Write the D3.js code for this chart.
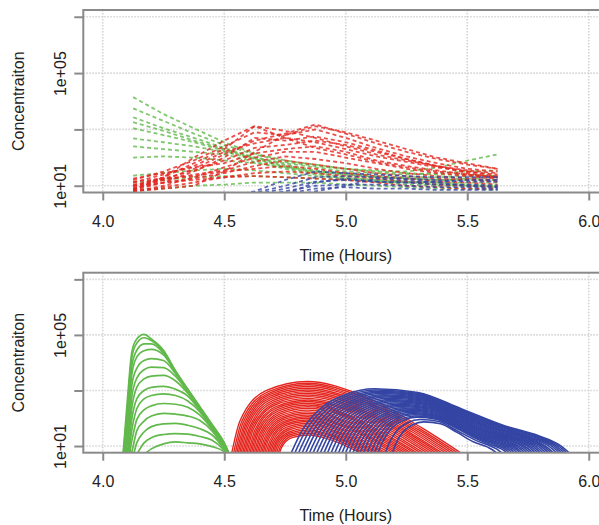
<!DOCTYPE html>
<html>
<head>
<meta charset="utf-8">
<script src="https://cdn.jsdelivr.net/npm/d3@7"></script>
<style>
  body { margin: 0; background: #fff; }
  svg text { font-family: "Liberation Sans", Arial, Helvetica, sans-serif; fill: #222; }
</style>
</head>
<body>
<div id="chart"></div>
<script>
// axis ticks
const xTicks = [4.0, 4.5, 5.0, 5.5, 6.0]
const yTicks = [1e1, 1e3, 1e5, 1e7]
const yTickLabels = ['1e+01', '', '1e+05', '']

// top panel: sampled every 7.5 min, dashed
const topTimes = [4.125, 4.25, 4.375, 4.5, 4.625, 4.75, 4.875, 5.0, 5.125, 5.25, 5.375, 5.5, 5.625]

const topGreen = [
  [14000, 3500, 1100, 350, 140, 79, 56, 40, 32, 28, 25, 25, 22],
  [5600, 2000, 710, 280, 130, 71, 50, 40, 35, 32, 44, 78, 130],
  [2700, 1100, 500, 220, 100, 63, 45, 32, 28, 25, 28, 32, 35],
  [1800, 890, 400, 200, 100, 56, 35, 28, 22, 20, 20, 22, 22],
  [1100, 630, 350, 180, 89, 50, 32, 25, 20, 18, 16, 16, 16],
  [480, 350, 250, 160, 89, 45, 28, 20, 16, 14, 13, 13, 13],
  [250, 200, 160, 130, 71, 40, 25, 18, 14, 11, 10, 10, 10],
  [23, 28, 35, 40, 35, 28, 22, 18, 16, 14, 13, 11, 10],
  [13, 16, 20, 22, 22, 20, 18, 16, 14, 13, 11, 10, 8.9],
  [7.1, 7.9, 10, 11, 13, 13, 13, 11, 10, 8.9, 7.9, 7.9, 7.1],
  [100, 110, 100, 79, 63, 45, 32, 25, 20, 18, 16, 18, 20]
]

const topRed = [
  [10, 20, 63, 200, 1300, 890, 500, 250, 130, 79, 50, 35, 28],
  [7.9, 16, 40, 130, 400, 710, 1500, 710, 320, 160, 89, 56, 40],
  [16, 32, 79, 250, 790, 630, 1000, 500, 220, 110, 63, 40, 32],
  [7.1, 13, 32, 100, 500, 400, 560, 350, 180, 89, 50, 32, 25],
  [13, 25, 50, 160, 320, 500, 350, 200, 110, 71, 45, 32, 22],
  [8.9, 18, 35, 79, 220, 280, 400, 280, 160, 89, 50, 28, 20],
  [18, 28, 45, 63, 140, 200, 250, 160, 79, 50, 35, 25, 20],
  [6.3, 10, 20, 45, 100, 160, 160, 100, 63, 40, 28, 22, 18],
  [11, 16, 25, 35, 71, 110, 89, 63, 40, 28, 22, 18, 16],
  [7.9, 13, 18, 28, 50, 79, 56, 40, 28, 22, 18, 16, 14],
  [14, 18, 22, 32, 40, 50, 40, 28, 22, 18, 14, 13, 11],
  [6.3, 8.9, 13, 20, 28, 32, 28, 22, 18, 14, 11, 10, 8.9],
  [10, 13, 16, 20, 22, 20, 18, 16, 13, 10, 8.9, 7.9, 7.9],
  [7.1, 20, 100, 400, 1300, 500, 220, 130, 71, 45, 32, 25, 20],
  [6.3, 7.9, 10, 32, 160, 630, 1300, 790, 400, 200, 100, 63, 40]
]

const topBlue = [
  [2, 2.5, 3.2, 4, 6.3, 16, 32, 28, 25, 22, 20, 20, 20],
  [2, 2.5, 3.2, 4, 5.6, 10, 20, 22, 20, 18, 16, 14, 14],
  [1.6, 2, 2.5, 3.2, 5, 7.9, 14, 16, 14, 13, 11, 11, 10],
  [1.6, 2, 2.5, 3.2, 4, 6.3, 10, 11, 11, 10, 8.9, 8.9, 7.9],
  [1.6, 2, 2, 2.5, 3.2, 5, 7.9, 8.9, 7.9, 7.9, 7.1, 7.1, 7.1],
  [1.3, 1.6, 2, 2.5, 3.2, 4, 6.3, 10, 18, 16, 13, 10, 8.9],
  [1.3, 1.6, 2, 2.5, 3.2, 5, 13, 18, 14, 13, 14, 16, 16]
]

// bottom panel: green curves on a shared time grid
const greenTimes = [4.08, 4.10, 4.12, 4.14, 4.17, 4.20, 4.25, 4.30, 4.35, 4.40, 4.45, 4.50, 4.53]
const bottomGreen = [
  [2, 320, 25000, 71000, 105000, 71000, 28000, 5000, 1100, 260, 60, 13, 3.2],
  [2, 160, 16000, 50000, 79000, 63000, 25000, 4800, 1100, 250, 58, 13, 3.2],
  [2, 79, 7900, 28000, 48000, 48000, 22000, 4600, 1000, 240, 55, 12, 3.2],
  [2, 40, 4000, 16000, 27000, 30000, 19000, 4400, 980, 230, 52, 11, 3.2],
  [2, 20, 1600, 6300, 12000, 14000, 12000, 4000, 930, 220, 50, 11, 3.2],
  [2, 10, 630, 2800, 5600, 6900, 6600, 3200, 890, 210, 48, 10, 3.2],
  [2, 5, 250, 1300, 2600, 3300, 3500, 2200, 790, 200, 46, 10, 3.2],
  [2, 3.2, 100, 500, 1000, 1300, 1400, 1100, 630, 190, 44, 9.5, 3.2],
  [2, 2.5, 40, 220, 500, 660, 760, 660, 420, 170, 42, 9.1, 3.2],
  [1.6, 2, 16, 89, 200, 280, 340, 320, 250, 130, 40, 8.7, 3.2],
  [1.6, 2, 6.3, 35, 79, 120, 150, 140, 120, 83, 35, 8.3, 3.2],
  [1.6, 2, 3.2, 13, 32, 50, 63, 65, 56, 42, 25, 7.9, 3.2],
  [1.6, 2, 2.5, 5, 13, 20, 26, 28, 27, 22, 16, 7.1, 3.2],
  [1.6, 2, 2, 3.2, 5, 7.9, 12, 14, 13, 12, 9.5, 6.3, 3.2]
]

// bottom panel: red and blue curves as [time, concentration]
const bottomRed = [
  [[4.525, 3.2], [4.565, 81], [4.674, 1000], [4.842, 2100], [5.070, 650], [5.317, 43], [5.515, 3.2]],
  [[4.533, 3.2], [4.572, 76], [4.679, 890], [4.843, 1830], [5.067, 576], [5.309, 40], [5.503, 3.2]],
  [[4.540, 3.2], [4.578, 71], [4.683, 790], [4.844, 1600], [5.063, 510], [5.300, 38], [5.490, 3.2]],
  [[4.546, 3.2], [4.584, 66], [4.686, 705], [4.844, 1390], [5.059, 463], [5.291, 36], [5.478, 3.2]],
  [[4.552, 3.2], [4.589, 62], [4.689, 630], [4.844, 1200], [5.054, 420], [5.282, 34], [5.465, 3.2]],
  [[4.558, 3.2], [4.594, 58], [4.692, 555], [4.844, 1045], [5.050, 372], [5.274, 32], [5.453, 3.2]],
  [[4.564, 3.2], [4.599, 54], [4.695, 490], [4.844, 910], [5.046, 330], [5.265, 30], [5.440, 3.2]],
  [[4.570, 3.2], [4.605, 50], [4.699, 431], [4.844, 793], [5.042, 293], [5.256, 29], [5.428, 3.2]],
  [[4.576, 3.2], [4.610, 47], [4.702, 380], [4.844, 690], [5.037, 260], [5.247, 28], [5.415, 3.2]],
  [[4.582, 3.2], [4.615, 44], [4.705, 338], [4.845, 602], [5.033, 234], [5.239, 26.5], [5.403, 3.2]],
  [[4.588, 3.2], [4.620, 41], [4.708, 300], [4.845, 520], [5.029, 210], [5.230, 25], [5.390, 3.2]],
  [[4.594, 3.2], [4.626, 38], [4.712, 263], [4.845, 456], [5.025, 189], [5.221, 23.5], [5.378, 3.2]],
  [[4.600, 3.2], [4.631, 35], [4.715, 230], [4.845, 400], [5.021, 170], [5.212, 22], [5.365, 3.2]],
  [[4.606, 3.2], [4.636, 33], [4.718, 203], [4.845, 346], [5.017, 149], [5.203, 20.5], [5.353, 3.2]],
  [[4.612, 3.2], [4.641, 31], [4.721, 180], [4.845, 300], [5.012, 130], [5.194, 19], [5.340, 3.2]],
  [[4.618, 3.2], [4.647, 29], [4.725, 159], [4.845, 263], [5.008, 120], [5.186, 18], [5.328, 3.2]],
  [[4.624, 3.2], [4.652, 27], [4.728, 140], [4.845, 230], [5.004, 110], [5.177, 17], [5.315, 3.2]],
  [[4.630, 3.2], [4.657, 25], [4.731, 124], [4.845, 197], [5.000, 97], [5.168, 16.5], [5.303, 3.2]],
  [[4.636, 3.2], [4.662, 23], [4.734, 110], [4.845, 170], [4.996, 85], [5.159, 16], [5.290, 3.2]],
  [[4.642, 3.2], [4.668, 21.5], [4.738, 98], [4.845, 149], [4.992, 76], [5.151, 15], [5.278, 3.2]],
  [[4.648, 3.2], [4.673, 20], [4.741, 87], [4.845, 130], [4.987, 68], [5.142, 14], [5.265, 3.2]],
  [[4.654, 3.2], [4.678, 19], [4.744, 77], [4.846, 114], [4.983, 61], [5.133, 13.5], [5.253, 3.2]],
  [[4.660, 3.2], [4.683, 18], [4.747, 69], [4.846, 100], [4.979, 54], [5.124, 13], [5.240, 3.2]],
  [[4.666, 3.2], [4.689, 16.5], [4.750, 61], [4.846, 87], [4.975, 48], [5.115, 12], [5.228, 3.2]],
  [[4.672, 3.2], [4.694, 15], [4.753, 54], [4.846, 76], [4.971, 43], [5.106, 11], [5.215, 3.2]],
  [[4.678, 3.2], [4.699, 14], [4.757, 48], [4.846, 66], [4.967, 38], [5.098, 10.5], [5.203, 3.2]],
  [[4.684, 3.2], [4.704, 13], [4.760, 42], [4.846, 58], [4.962, 34], [5.089, 10], [5.190, 3.2]],
  [[4.690, 3.2], [4.710, 12.5], [4.763, 37], [4.846, 51], [4.958, 30], [5.080, 9.5], [5.178, 3.2]],
  [[4.696, 3.2], [4.715, 12], [4.766, 32], [4.846, 44], [4.954, 27], [5.071, 9.1], [5.165, 3.2]],
  [[4.702, 3.2], [4.720, 11], [4.770, 29], [4.846, 38], [4.950, 24], [5.063, 8.6], [5.153, 3.2]],
  [[4.708, 3.2], [4.725, 10], [4.773, 26], [4.846, 33], [4.946, 22], [5.054, 8.1], [5.140, 3.2]],
  [[4.714, 3.2], [4.731, 9.4], [4.776, 23], [4.846, 29], [4.942, 19.5], [5.045, 7.6], [5.128, 3.2]],
  [[4.720, 3.2], [4.736, 8.9], [4.779, 20], [4.846, 25], [4.937, 17], [5.036, 7.2], [5.115, 3.2]]
]

const bottomBlue = [
  [[4.763, 3.2], [4.822, 38], [4.905, 260], [5.000, 720], [5.119, 1150], [5.297, 850], [5.475, 220], [5.653, 54], [5.796, 23], [5.879, 11], [5.950, 3.2]],
  [[4.778, 3.2], [4.836, 36.5], [4.917, 245], [5.010, 657], [5.127, 1040], [5.301, 777], [5.475, 204], [5.649, 51], [5.788, 22.5], [5.870, 11], [5.939, 3.2]],
  [[4.793, 3.2], [4.850, 35], [4.929, 230], [5.020, 600], [5.134, 940], [5.304, 710], [5.474, 190], [5.644, 49], [5.780, 22], [5.860, 11], [5.928, 3.2]],
  [[4.808, 3.2], [4.864, 33.5], [4.941, 212], [5.030, 548], [5.141, 856], [5.307, 647], [5.474, 178], [5.640, 47], [5.773, 21], [5.851, 11], [5.917, 3.2]],
  [[4.823, 3.2], [4.877, 32], [4.953, 195], [5.040, 500], [5.148, 780], [5.310, 590], [5.473, 166], [5.635, 45], [5.765, 20], [5.841, 11], [5.906, 3.2]],
  [[4.838, 3.2], [4.891, 30.5], [4.965, 182], [5.050, 458], [5.155, 706], [5.314, 538], [5.473, 155], [5.631, 43], [5.758, 19.5], [5.832, 10.5], [5.895, 3.2]],
  [[4.853, 3.2], [4.905, 29], [4.977, 170], [5.059, 420], [5.162, 640], [5.317, 490], [5.472, 145], [5.626, 41], [5.750, 19], [5.822, 10], [5.884, 3.2]],
  [[4.868, 3.2], [4.919, 28], [4.989, 158], [5.069, 383], [5.170, 580], [5.321, 449], [5.471, 135], [5.622, 39], [5.743, 18.5], [5.813, 9.9], [5.873, 3.2]],
  [[4.883, 3.2], [4.932, 27], [5.000, 146], [5.079, 350], [5.177, 525], [5.324, 410], [5.470, 126], [5.617, 37], [5.735, 18], [5.803, 9.8], [5.862, 3.2]],
  [[4.898, 3.2], [4.946, 26], [5.012, 136], [5.089, 319], [5.184, 475], [5.327, 373], [5.470, 118], [5.613, 35], [5.727, 17.5], [5.794, 9.5], [5.851, 3.2]],
  [[4.913, 3.2], [4.959, 25], [5.024, 126], [5.098, 290], [5.191, 430], [5.330, 340], [5.469, 110], [5.608, 33], [5.719, 17], [5.784, 9.3], [5.840, 3.2]],
  [[4.928, 3.2], [4.973, 24], [5.036, 118], [5.108, 267], [5.199, 391], [5.334, 309], [5.469, 102], [5.604, 31.5], [5.712, 16.5], [5.775, 9.1], [5.829, 3.2]],
  [[4.943, 3.2], [4.987, 23], [5.048, 110], [5.118, 245], [5.206, 355], [5.337, 280], [5.468, 95], [5.599, 30], [5.704, 16], [5.766, 8.9], [5.818, 3.2]],
  [[4.958, 3.2], [5.001, 22], [5.060, 101], [5.128, 224], [5.213, 321], [5.340, 256], [5.468, 88], [5.595, 29], [5.697, 15.5], [5.757, 8.7], [5.807, 3.2]],
  [[4.973, 3.2], [5.014, 21], [5.072, 93], [5.138, 204], [5.220, 290], [5.343, 234], [5.467, 81], [5.590, 28], [5.689, 15], [5.747, 8.5], [5.796, 3.2]],
  [[4.988, 3.2], [5.028, 20.5], [5.084, 87], [5.148, 186], [5.227, 264], [5.347, 214], [5.467, 76], [5.586, 26.5], [5.682, 14.5], [5.738, 8.3], [5.785, 3.2]],
  [[5.003, 3.2], [5.042, 20], [5.096, 81], [5.157, 170], [5.234, 240], [5.350, 195], [5.466, 71], [5.581, 25], [5.674, 14], [5.728, 8.1], [5.774, 3.2]],
  [[5.018, 3.2], [5.056, 19], [5.108, 76], [5.167, 155], [5.242, 217], [5.354, 178], [5.465, 66], [5.577, 24], [5.667, 13.5], [5.719, 7.9], [5.763, 3.2]],
  [[5.033, 3.2], [5.069, 18], [5.119, 71], [5.177, 141], [5.249, 197], [5.357, 162], [5.464, 62], [5.572, 23], [5.659, 13], [5.709, 7.8], [5.752, 3.2]],
  [[5.048, 3.2], [5.083, 17.5], [5.131, 65], [5.187, 129], [5.256, 179], [5.360, 146], [5.464, 58], [5.568, 22], [5.651, 12.5], [5.700, 7.7], [5.741, 3.2]],
  [[5.063, 3.2], [5.096, 17], [5.143, 60], [5.196, 118], [5.263, 162], [5.363, 132], [5.463, 54], [5.563, 21], [5.643, 12], [5.690, 7.6], [5.730, 3.2]],
  [[5.078, 3.2], [5.110, 16], [5.155, 56], [5.206, 109], [5.271, 147], [5.367, 120], [5.463, 50], [5.559, 20], [5.636, 11.5], [5.681, 7.4], [5.719, 3.2]],
  [[5.093, 3.2], [5.124, 15], [5.167, 52], [5.216, 100], [5.278, 133], [5.370, 110], [5.462, 47], [5.554, 19], [5.628, 11], [5.671, 7.2], [5.708, 3.2]],
  [[5.108, 3.2], [5.138, 14.5], [5.179, 49], [5.226, 91], [5.285, 121], [5.373, 100], [5.462, 44], [5.550, 18], [5.621, 10.5], [5.662, 7.0], [5.697, 3.2]],
  [[5.123, 3.2], [5.151, 14], [5.191, 46], [5.236, 83], [5.292, 110], [5.376, 91], [5.461, 41], [5.545, 17], [5.613, 10], [5.652, 6.9], [5.686, 3.2]],
  [[5.153, 3.2], [5.179, 13], [5.214, 39], [5.255, 69], [5.306, 90], [5.383, 76], [5.460, 35], [5.536, 16], [5.598, 9.8], [5.633, 6.6], [5.664, 3.2]],
  [[5.183, 3.2], [5.206, 12], [5.238, 34], [5.275, 58], [5.321, 74], [5.390, 63], [5.458, 31], [5.527, 14], [5.582, 9.3], [5.614, 6.3], [5.642, 3.2]]
]

const colors = { green: '#62b94b', red: '#e4261f', blue: '#3445a4' }

const width = 599
const height = 525
const left = 83.3
const right = 608.2

const x = d3.scaleLinear().domain([3.92, 6.08]).range([left, right])

const svg = d3.select('#chart')
  .append('svg')
    .attr('width', width)
    .attr('height', height)

function panel (top, bottom, id) {
  const y = d3.scaleLog()
    .domain([Math.pow(10, 0.76), Math.pow(10, 7.24)])
    .range([bottom, top])

  svg.append('clipPath').attr('id', id)
    .append('rect')
      .attr('x', left)
      .attr('y', top)
      .attr('width', right - left)
      .attr('height', bottom - top)

  // dotted grid first, like panel.first = grid()
  const grid = svg.append('g')
    .attr('stroke', '#d4d4d4')
    .attr('stroke-width', 1.6)
    .attr('stroke-dasharray', '1.5,1.5')
  grid.selectAll('.vg').data(xTicks).enter()
    .append('line')
      .attr('x1', d => x(d)).attr('x2', d => x(d))
      .attr('y1', top).attr('y2', bottom)
  grid.selectAll('.hg').data(yTicks).enter()
    .append('line')
      .attr('x1', left).attr('x2', right)
      .attr('y1', d => y(d)).attr('y2', d => y(d))

  const plot = svg.append('g').attr('clip-path', `url(#${id})`)
  return { y, plot, top, bottom }
}

function finish (p, titleY) {
  const { y, top, bottom } = p
  // box
  svg.append('rect')
    .attr('x', left).attr('y', top)
    .attr('width', right - left).attr('height', bottom - top)
    .attr('fill', 'none')
    .attr('stroke', '#8a8a8a')
    .attr('stroke-width', 2)

  const xAxis = d3.axisBottom(x)
    .tickValues(xTicks)
    .tickFormat(d3.format('.1f'))
    .tickSize(8)
    .tickSizeOuter(0)
    .tickPadding(15)
  svg.append('g')
    .attr('transform', `translate(0, ${bottom})`)
    .call(xAxis)
    .call(g => g.select('.domain').remove())
    .call(g => g.selectAll('line').attr('stroke', '#8a8a8a').attr('stroke-width', 2))
    .call(g => g.selectAll('text').attr('font-size', 16).attr('fill', '#222'))

  const yAxis = d3.axisLeft(y)
    .tickValues(yTicks)
    .tickFormat((d, i) => yTickLabels[i])
    .tickSize(9)
    .tickSizeOuter(0)
  svg.append('g')
    .attr('transform', `translate(${left}, 0)`)
    .call(yAxis)
    .call(g => g.select('.domain').remove())
    .call(g => g.selectAll('line').attr('stroke', '#8a8a8a').attr('stroke-width', 2))
    .call(g => g.selectAll('text')
      .attr('font-size', 16)
      .attr('fill', '#222')
      .attr('x', null)
      .attr('dy', null)
      .attr('text-anchor', 'middle')
      .attr('dominant-baseline', 'central')
      .attr('transform', 'translate(-23, 0) rotate(-90)'))

  svg.append('text')
    .attr('x', (left + right) / 2)
    .attr('y', titleY)
    .attr('text-anchor', 'middle')
    .attr('dominant-baseline', 'central')
    .attr('font-size', 16)
    .text('Time (Hours)')

  svg.append('text')
    .attr('transform', `translate(18, ${(top + bottom) / 2}) rotate(-90)`)
    .attr('text-anchor', 'middle')
    .attr('dominant-baseline', 'central')
    .attr('font-size', 16)
    .text('Concentraiton')
}

// ---- top panel (dashed) ----
const pTop = panel(10, 192.5, 'clipTop')
const topLine = d3.line()
  .x((d, i) => x(topTimes[i]))
  .y(d => pTop.y(d))

function dashed (rows, color) {
  pTop.plot.append('g').selectAll('path')
    .data(rows)
    .enter()
      .append('path')
      .attr('d', topLine)
      .attr('fill', 'none')
      .attr('stroke', color)
      .attr('stroke-width', 1.8)
      .attr('stroke-opacity', 0.8)
      .attr('stroke-dasharray', '4,3')
}
dashed(topGreen, colors.green)
dashed(topRed, colors.red)
dashed(topBlue, colors.blue)
finish(pTop, 255)

// ---- bottom panel (solid) ----
const pBot = panel(272.7, 452.7, 'clipBot')
const greenLine = d3.line()
  .x((d, i) => x(greenTimes[i]))
  .y(d => pBot.y(d))
  .curve(d3.curveMonotoneX)
const pairLine = d3.line()
  .x(d => x(d[0]))
  .y(d => pBot.y(d[1]))
  .curve(d3.curveMonotoneX)

function solid (rows, line, color, w) {
  pBot.plot.append('g').selectAll('path')
    .data(rows)
    .enter()
      .append('path')
      .attr('d', line)
      .attr('fill', 'none')
      .attr('stroke', color)
      .attr('stroke-width', w)
}
solid(bottomGreen, greenLine, colors.green, 1.7)
solid(bottomRed, pairLine, colors.red, 1.4)
solid(bottomBlue, pairLine, colors.blue, 1.6)
finish(pBot, 515)
</script>
</body>
</html>
